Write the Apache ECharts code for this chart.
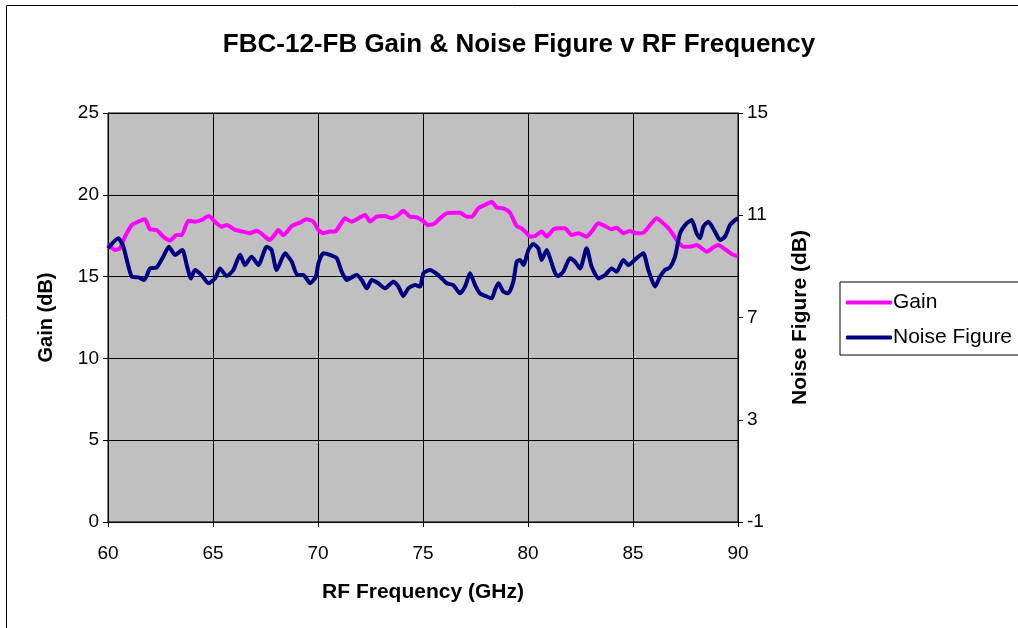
<!DOCTYPE html>
<html>
<head>
<meta charset="utf-8">
<script src="https://cdn.jsdelivr.net/npm/echarts@6/dist/echarts.min.js"></script>
<style>
html,body{margin:0;padding:0;background:#fff;}
#chart{width:1018px;height:628px;}
</style>
</head>
<body>
<div id="chart"></div>
<script>
// gain (dB)
var gainFreq = [60, 60.33, 60.57, 60.81, 61.13, 61.44, 61.76, 62.0, 62.32, 62.63, 62.95, 63.27, 63.51, 63.83, 64.14, 64.46, 64.78,
	65.17, 65.41, 65.65, 66.05, 66.44, 66.76, 67.08, 67.4, 67.68, 67.87, 68.11, 68.35, 68.75, 69.14, 69.46, 69.78,
	70.02, 70.25, 70.57, 70.81, 71.05, 71.29, 71.6, 71.92, 72.24, 72.48, 72.79, 73.19, 73.51, 73.83, 74.06, 74.38, 74.7,
	75.0, 75.25, 75.57, 75.81, 76.13, 76.44, 76.76, 77.08, 77.32, 77.63, 77.95, 78.27, 78.51, 78.83, 79.14, 79.46, 79.7, 79.94,
	80.1, 80.33, 80.65, 80.89, 81.21, 81.52, 81.76, 82.08, 82.4, 82.79, 83.03, 83.35, 83.67, 83.98, 84.22, 84.54, 84.86,
	85.17, 85.49, 85.81, 86.13, 86.44, 86.76, 87.08, 87.4, 87.71, 88.03, 88.27, 88.51, 88.83, 89.06, 89.38, 89.7, 90];
var gainVals = [17.0, 16.63, 16.73, 17.44, 18.15, 18.36, 18.5, 17.89, 17.85, 17.44, 17.2, 17.54, 17.54, 18.42, 18.36, 18.46, 18.7,
	18.26, 18.05, 18.15, 17.85, 17.75, 17.65, 17.81, 17.54, 17.24, 17.44, 17.85, 17.54, 18.09, 18.3, 18.5, 18.36,
	17.85, 17.65, 17.75, 17.75, 18.15, 18.56, 18.36, 18.56, 18.77, 18.36, 18.66, 18.7, 18.56, 18.77, 19.03, 18.66, 18.62,
	18.4, 18.15, 18.26, 18.56, 18.87, 18.91, 18.91, 18.66, 18.66, 19.17, 19.38, 19.58, 19.23, 19.17, 18.91, 18.09, 17.95, 17.65,
	17.44, 17.48, 17.75, 17.44, 17.89, 17.95, 17.95, 17.54, 17.65, 17.44, 17.75, 18.26, 18.09, 17.89, 17.99, 17.65, 17.78,
	17.65, 17.68, 18.15, 18.56, 18.26, 17.85, 17.24, 16.83, 16.83, 16.93, 16.73, 16.52, 16.79, 16.93, 16.67, 16.38, 16.22];

// noise figure (dB)
var nfFreq = [60, 60.49, 60.73, 61.13, 61.44, 61.73, 62.0, 62.32, 62.63, 62.9, 63.19, 63.54, 63.75, 63.95, 64.14, 64.46, 64.78,
	65.1, 65.33, 65.65, 65.97, 66.29, 66.52, 66.84, 67.16, 67.56, 67.79, 68.03, 68.43, 68.75, 69.02, 69.3, 69.62, 69.9,
	70.02, 70.25, 70.57, 70.89, 71.13, 71.37, 71.6, 71.84, 72.08, 72.32, 72.56, 72.87, 73.19, 73.59, 73.83, 74.06, 74.3, 74.62, 74.86,
	75.02, 75.33, 75.73, 76.13, 76.44, 76.76, 77.0, 77.24, 77.48, 77.71, 78.03, 78.27, 78.43, 78.59, 78.83, 79.06, 79.3, 79.46, 79.62, 79.78,
	80.02, 80.25, 80.49, 80.65, 80.89, 81.05, 81.29, 81.44, 81.68, 82.0, 82.24, 82.48, 82.79, 83.03, 83.35, 83.67, 83.98, 84.22, 84.54, 84.78,
	85.17, 85.49, 85.73, 86.05, 86.29, 86.52, 86.76, 87.0, 87.24, 87.56, 87.79, 88.03, 88.19, 88.35, 88.59, 88.9, 89.14, 89.38, 89.62, 89.86, 90];
var nfVals = [9.71, 10.1, 9.77, 8.6, 8.57, 8.47, 8.92, 8.96, 9.38, 9.77, 9.45, 9.64, 9.05, 8.53, 8.86, 8.66, 8.34,
	8.53, 8.92, 8.62, 8.86, 9.45, 9.05, 9.38, 9.05, 9.77, 9.64, 8.86, 9.51, 9.18, 8.66, 8.66, 8.34, 8.6,
	9.12, 9.51, 9.45, 9.32, 8.79, 8.47, 8.57, 8.66, 8.47, 8.14, 8.47, 8.34, 8.14, 8.4, 8.21, 7.84, 8.14, 8.27, 8.21,
	8.73, 8.86, 8.66, 8.34, 8.27, 7.95, 8.21, 8.73, 8.27, 7.95, 7.82, 7.75, 8.08, 8.34, 8.01, 7.95, 8.4, 9.18, 9.25, 9.05,
	9.64, 9.88, 9.71, 9.25, 9.64, 9.32, 8.73, 8.62, 8.79, 9.32, 9.18, 8.92, 9.71, 8.99, 8.53, 8.66, 8.92, 8.79, 9.25, 9.05,
	9.32, 9.51, 8.86, 8.21, 8.6, 8.86, 8.96, 9.38, 10.29, 10.69, 10.81, 10.29, 10.1, 10.55, 10.75, 10.36, 10.03, 10.16, 10.62, 10.81, 10.88];

function pairs(xs, ys){
	var out = [];
	for(var i=0;i<xs.length;i++){ out.push([xs[i], ys[i]]); }
	return out;
}

var font = '"Liberation Sans", Arial, sans-serif';
var chart = echarts.init(document.getElementById('chart'));
var option = {
	animation: false,
	backgroundColor: '#fff',
	title: {
		text: 'FBC-12-FB Gain & Noise Figure v RF Frequency',
		left: 514,
		textAlign: 'center',
		top: 27,
		textStyle: {fontFamily: font, fontSize: 26, fontWeight: 'bold', color: '#000'}
	},
	legend: {
		orient: 'vertical',
		left: 840,
		top: 282,
		padding: [10, 40, 7, 6],
		itemGap: 14,
		itemWidth: 46,
		itemHeight: 4,
		borderColor: '#000',
		borderWidth: 1,
		textStyle: {fontFamily: font, fontSize: 21, color: '#000', padding: [0, 0, 0, -4]},
		data: [{name: 'Gain', icon: 'roundRect'}, {name: 'Noise Figure', icon: 'roundRect'}]
	},
	grid: {
		left: 108, right: 280, top: 113, bottom: 106,
		show: true,
		backgroundColor: '#C0C0C0',
		borderColor: '#000',
		borderWidth: 1
	},
	graphic: [{
		type: 'rect',
		shape: {x: 6.5, y: 5.5, width: 1100, height: 700},
		style: {fill: 'none', stroke: '#000', lineWidth: 1},
		silent: true
	}],
	xAxis: {
		type: 'value',
		min: 60, max: 90, interval: 5,
		name: 'RF Frequency (GHz)',
		nameLocation: 'middle',
		nameGap: 60,
		nameTextStyle: {fontFamily: font, fontSize: 21, fontWeight: 'bold', color: '#000'},
		axisLine: {lineStyle: {color: '#000'}},
		axisTick: {show: true, length: 5, lineStyle: {color: '#000'}},
		axisLabel: {fontFamily: font, fontSize: 19, color: '#000', margin: 22},
		splitLine: {show: true, lineStyle: {color: '#000', width: 1}}
	},
	yAxis: [{
		type: 'value',
		min: 0, max: 25, interval: 5,
		name: 'Gain (dB)',
		nameLocation: 'middle',
		nameGap: 52,
		nameTextStyle: {fontFamily: font, fontSize: 20, fontWeight: 'bold', color: '#000'},
		axisLine: {show: true, lineStyle: {color: '#000'}},
		axisTick: {show: true, length: 5, lineStyle: {color: '#000'}},
		axisLabel: {fontFamily: font, fontSize: 19, color: '#000', margin: 9},
		splitLine: {show: true, lineStyle: {color: '#000', width: 1}}
	}, {
		type: 'value',
		min: -1, max: 15, interval: 4,
		position: 'right',
		name: 'Noise Figure (dB)',
		nameLocation: 'middle',
		nameGap: 52,
		nameRotate: 90,
		nameTextStyle: {fontFamily: font, fontSize: 21, fontWeight: 'bold', color: '#000'},
		axisLine: {show: true, lineStyle: {color: '#000'}},
		axisTick: {show: true, length: 5, lineStyle: {color: '#000'}},
		axisLabel: {fontFamily: font, fontSize: 19, color: '#000', margin: 9},
		splitLine: {show: false}
	}],
	series: [{
		name: 'Gain',
		type: 'line',
		yAxisIndex: 0,
		symbol: 'none',
		smooth: 0.2,
		lineStyle: {color: '#FF00FF', width: 4},
		itemStyle: {color: '#FF00FF'},
		data: pairs(gainFreq, gainVals)
	}, {
		name: 'Noise Figure',
		type: 'line',
		yAxisIndex: 1,
		symbol: 'none',
		smooth: 0.2,
		lineStyle: {color: '#000080', width: 4},
		itemStyle: {color: '#000080'},
		data: pairs(nfFreq, nfVals)
	}]
};
chart.setOption(option);
</script>
</body>
</html>
